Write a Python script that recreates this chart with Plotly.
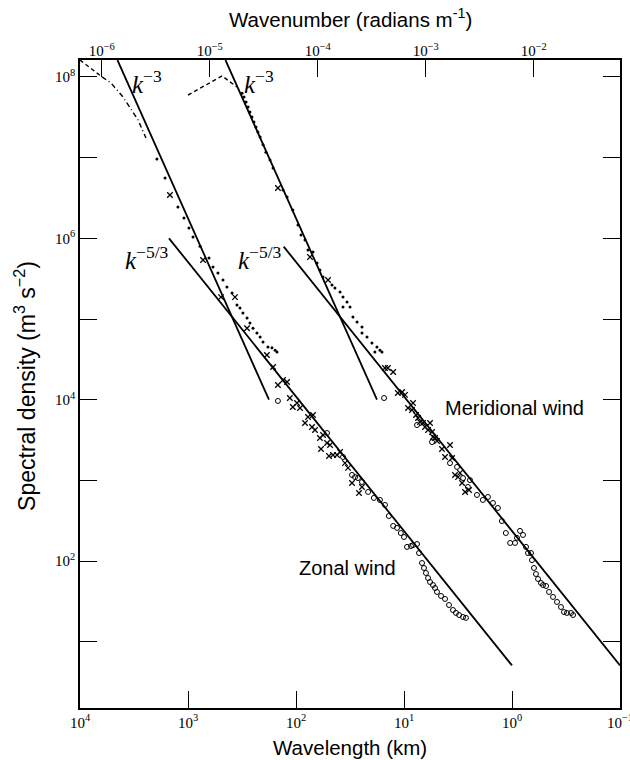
import plotly.graph_objects as go

# ---------------- data (wavelength in km, spectral density in m^3 s^-2) ----------------
# Zonal wind
zonal_dash_wavelength = [10000, 6250]
zonal_dash_density = [1.62e8, 1.0e8]
zonal_dashdot_wavelength = [6250, 5160, 4000, 3440, 2900, 2450]
zonal_dashdot_density = [1.0e8, 8.4e7, 5.65e7, 4.12e7, 2.93e7, 1.75e7]

zonal_dot_wavelength = [1940, 1630, 1240, 1090, 980, 899, 774, 639, 587, 528, 474, 436, 391,
                        352, 330, 310, 284, 267, 250, 230, 215, 202, 182, 167, 156, 150]
zonal_dot_density = [9.6e6, 5.6e6, 2.44e6, 1.79e6, 1.34e6, 1.04e6, 8.0e5, 5.7e5, 4.4e5, 3.72e5,
                     3.05e5, 2.5e5, 2.1e5, 1.49e5, 1.37e5, 1.19e5, 1.03e5, 8.9e4, 7.7e4, 6.7e4,
                     6.0e4, 5.2e4, 4.5e4, 4.4e4, 4.1e4, 3.9e4]

zonal_cross_wavelength = [1470, 726, 495, 367, 284, 186, 163, 147, 132, 121, 114, 107, 97.9, 91.8,
                          82.5, 77.4, 71.1, 69.6, 66.7, 60.0, 56.2, 51.6, 58.7, 48.4, 49.5, 45.4,
                          41.7, 39.1, 35.2, 33.0, 30.3, 26.1, 24.5]
zonal_cross_density = [3.44e6, 5.4e5, 1.87e5, 1.87e5, 7.7e4, 3.58e4, 2.55e4, 1.52e4, 1.76e4, 1.66e4,
                       1.05e4, 8.13e3, 9.12e3, 7.9e3, 5.15e3, 6.11e3, 4.59e3, 6.47e3, 4.22e3, 3.36e3,
                       3.66e3, 2.91e3, 2.45e3, 2.75e3, 2.01e3, 2.07e3, 2.07e3, 2.25e3, 1.64e3,
                       1.43e3, 931, 700, 830]

zonal_circle_wavelength = [147, 51.6, 36.7, 30.3, 28.4, 26.7, 24.5, 21.5, 19.0, 16.7, 15.0, 13.8,
                           12.6, 11.6, 10.7, 10.0, 9.38, 8.61, 8.25, 7.58, 7.26, 6.81, 6.53, 6.26,
                           5.99, 5.74, 5.39, 5.16, 4.95, 4.54, 4.17, 3.83, 3.52, 3.30, 3.09, 2.84, 2.67]
zonal_circle_density = [9.66e3, 3.87e3, 1.95e3, 1.17e3, 1.10e3, 1.07e3, 957, 720, 607, 573, 497, 362,
                        273, 258, 223, 199, 150, 154, 158, 163, 126, 94.8, 82.2, 71.3, 61.8, 55.1,
                        50.6, 46.5, 41.5, 37.0, 34.0, 28.6, 24.8, 22.8, 21.5, 20.3, 19.8]

# Meridional wind (shifted one decade to the right, as in the original figure)
merid_dash_wavelength = [1000, 484, 352]
merid_dash_density = [5.97e7, 1.03e8, 7.5e7]

merid_dot_wavelength = [316, 303, 290, 278, 267, 256, 245, 235, 225, 215, 202, 190, 174, 163, 132,
                        121, 107, 95.8, 89.9, 82.5, 77.4, 69.6, 63.9, 60.0, 56.2, 46.4, 43.6, 39.1,
                        36.7, 33.7, 36.7, 31.6, 29.7, 27.2, 24.5, 24.5, 22.0, 19.8, 17.8, 16.7,
                        16.0, 18.6]
merid_dot_density = [6.3e7, 5.65e7, 4.9e7, 4.25e7, 3.68e7, 3.19e7, 2.77e7, 2.40e7, 2.08e7, 1.80e7,
                     1.44e7, 1.17e7, 9.35e6, 7.45e6, 3.97e6, 3.25e6, 2.24e6, 1.46e6, 1.10e6, 9.55e5,
                     7.18e5, 6.78e5, 4.95e5, 4.05e5, 3.32e5, 2.64e5, 2.43e5, 2.16e5, 1.87e5, 1.63e5,
                     1.41e5, 1.41e5, 1.06e5, 9.2e4, 7.96e4, 6.7e4, 6.0e4, 5.05e4, 4.5e4, 4.1e4,
                     3.9e4, 3.9e4]

merid_cross_wavelength = [147, 74.2, 50.5, 15.0, 14.1, 12.6, 11.4, 10.4, 9.79, 9.18, 8.25, 8.43, 7.74,
                          7.42, 7.11, 6.67, 6.39, 5.74, 5.99, 5.50, 5.39, 5.16, 4.95, 4.45, 3.75,
                          4.17, 3.59, 3.37, 3.03, 3.16, 2.90, 2.72, 2.50]
merid_cross_density = [4.21e6, 5.87e5, 3.05e5, 2.47e4, 2.47e4, 2.21e4, 1.21e4, 1.25e4, 1.15e4, 7.9e3,
                       9.12e3, 7.46e3, 6.47e3, 5.94e3, 5.30e3, 5.15e3, 4.59e3, 5.15e3, 4.22e3,
                       3.98e3, 3.45e3, 3.36e3, 3.08e3, 2.45e3, 2.75e3, 1.95e3, 1.90e3, 1.17e3,
                       1.24e3, 1.10e3, 931, 720, 762]

merid_circle_wavelength = [15.3, 7.58, 5.50, 3.75, 3.23, 2.84, 2.56, 2.45, 2.11, 1.86, 1.67, 1.50, 1.35,
                           1.24, 1.14, 1.04, 0.938, 0.899, 0.843, 0.791, 0.742, 0.711, 0.667, 0.653,
                           0.626, 0.600, 0.574, 0.539, 0.516, 0.484, 0.454, 0.417, 0.383, 0.352,
                           0.330, 0.310, 0.284, 0.272]
merid_circle_density = [1.05e4, 4.86e3, 2.99e3, 1.64e3, 1.47e3, 1.07e3, 830, 1.01e3, 661, 573, 624,
                        526, 456, 314, 223, 168, 168, 194, 237, 211, 150, 126, 126, 103, 82.2, 69.2,
                        60.1, 53.6, 50.6, 49.2, 41.5, 36.0, 31.2, 27.0, 23.4, 22.8, 22.8, 21.5]

# Reference power-law lines (k^-3 and k^-5/3)
zonal_k3_wavelength = [4500, 178]
zonal_k3_density = [1.62e8, 1.0e4]
zonal_k53_wavelength = [1500, 1.0]
zonal_k53_density = [1.0e6, 5.1]
merid_k3_wavelength = [450, 17.8]
merid_k3_density = [1.62e8, 1.0e4]
merid_k53_wavelength = [130, 0.1]
merid_k53_density = [7.9e5, 5.1]

# Tick labels
wavelength_ticks = [1e4, 1e3, 1e2, 1e1, 1e0, 1e-1]
wavelength_ticktext = ["10<sup>4</sup>", "10<sup>3</sup>", "10<sup>2</sup>", "10<sup>1</sup>",
                       "10<sup>0</sup>", "10<sup>−1</sup>"]
wavenumber_ticks = [1e-6, 1e-5, 1e-4, 1e-3, 1e-2]
wavenumber_ticktext = ["10<sup>−6</sup>", "10<sup>−5</sup>", "10<sup>−4</sup>", "10<sup>−3</sup>",
                       "10<sup>−2</sup>"]
density_ticks = [1e1, 1e2, 1e3, 1e4, 1e5, 1e6, 1e7, 1e8]
density_ticktext = ["", "10<sup>2</sup>", "", "10<sup>4</sup>", "", "10<sup>6</sup>", "",
                    "10<sup>8</sup>"]

# ---------------- figure ----------------
BLACK = "black"
fig = go.Figure()


def line(x, y, dash="solid", width=1.8):
    fig.add_trace(go.Scatter(x=x, y=y, mode="lines", line=dict(color=BLACK, width=width, dash=dash),
                             hoverinfo="skip", showlegend=False))


def pts(x, y, symbol, size, lw=1.0):
    fig.add_trace(go.Scatter(x=x, y=y, mode="markers",
                             marker=dict(symbol=symbol, size=size, color=BLACK,
                                         line=dict(color=BLACK, width=lw)),
                             hoverinfo="skip", showlegend=False))


line(zonal_k3_wavelength, zonal_k3_density)
line(zonal_k53_wavelength, zonal_k53_density)
line(merid_k3_wavelength, merid_k3_density)
line(merid_k53_wavelength, merid_k53_density)

line(zonal_dash_wavelength, zonal_dash_density, dash="4px,3px", width=1.4)
line(zonal_dashdot_wavelength, zonal_dashdot_density, dash="5px,3px,1px,3px", width=1.4)
line(merid_dash_wavelength, merid_dash_density, dash="4px,3px", width=1.4)

pts(zonal_dot_wavelength, zonal_dot_density, "circle", 3, 0)
pts(merid_dot_wavelength, merid_dot_density, "circle", 3, 0)
pts(zonal_cross_wavelength, zonal_cross_density, "x-thin-open", 5.5, 1.3)
pts(merid_cross_wavelength, merid_cross_density, "x-thin-open", 5.5, 1.3)
pts(zonal_circle_wavelength, zonal_circle_density, "circle-open", 5, 1.0)
pts(merid_circle_wavelength, merid_circle_density, "circle-open", 5, 1.0)

# invisible trace to activate the top wavenumber axis
fig.add_trace(go.Scatter(x=[1e-4], y=[1e4], xaxis="x2", mode="markers",
                         marker=dict(opacity=0), hoverinfo="skip", showlegend=False))

serif = "Liberation Serif, Times New Roman, serif"
sans = "Liberation Sans, Arial, Helvetica, sans-serif"
tick_font = dict(family=serif, size=15, color=BLACK)

fig.update_layout(
    width=630, height=760,
    margin=dict(l=80, r=10, t=60, b=52, autoexpand=False),
    paper_bgcolor="white", plot_bgcolor="white",
    showlegend=False,
    xaxis=dict(type="log", range=[4, -1], tickvals=wavelength_ticks, ticktext=wavelength_ticktext,
               ticks="inside", ticklen=17, tickwidth=1.2, tickcolor=BLACK,
               showline=True, linecolor=BLACK, linewidth=1.5, mirror=True,
               showgrid=False, zeroline=False, tickfont=tick_font, ticklabeloverflow="allow"),
    xaxis2=dict(type="log", range=[-6.2018, -1.2018], overlaying="x", side="top", anchor="y",
                tickvals=wavenumber_ticks, ticktext=wavenumber_ticktext,
                ticks="inside", ticklen=17, tickwidth=1.2, tickcolor=BLACK,
                showline=False, showgrid=False, zeroline=False, tickfont=tick_font),
    yaxis=dict(type="log", range=[0.18, 8.21], tickvals=density_ticks, ticktext=density_ticktext,
               ticks="inside", ticklen=17, tickwidth=1.2, tickcolor=BLACK,
               showline=True, linecolor=BLACK, linewidth=1.5, mirror="ticks",
               showgrid=False, zeroline=False, tickfont=tick_font),
)

annotations = [
    dict(x=3.380, y=7.937, text="<i>k</i><sup>−3</sup>", font=dict(family=serif, size=25)),
    dict(x=2.343, y=7.937, text="<i>k</i><sup>−3</sup>", font=dict(family=serif, size=25)),
    dict(x=3.380, y=5.756, text="<i>k</i><sup>−5/3</sup>", font=dict(family=serif, size=25)),
    dict(x=2.333, y=5.756, text="<i>k</i><sup>−5/3</sup>", font=dict(family=serif, size=25)),
    dict(x=0.639, y=3.898, text="Meridional wind", xanchor="left", font=dict(family=sans, size=20)),
    dict(x=1.523, y=1.921, text="Zonal wind", font=dict(family=sans, size=20)),
]
for a in annotations:
    a.update(xref="x", yref="y", showarrow=False)
    a.setdefault("xanchor", "center")
    a["yanchor"] = "middle"
    a["font"]["color"] = BLACK
    fig.add_annotation(**a)

fig.add_annotation(xref="paper", yref="paper", x=0.5, y=-0.0617, text="Wavelength (km)",
                   showarrow=False, xanchor="center", yanchor="middle",
                   font=dict(family=sans, size=20.5, color=BLACK))
fig.add_annotation(xref="paper", yref="paper", x=0.5, y=1.0648,
                   text="Wavenumber (radians m<sup>-1</sup>)",
                   showarrow=False, xanchor="center", yanchor="middle",
                   font=dict(family=sans, size=20.5, color=BLACK))
fig.add_annotation(xref="paper", yref="paper", x=-0.1019, y=0.497,
                   text="Spectral density (m<sup>3</sup> s<sup>−2</sup>)", textangle=-90,
                   showarrow=False, xanchor="center", yanchor="middle",
                   font=dict(family=sans, size=23, color=BLACK))

fig.write_html("out.html")
